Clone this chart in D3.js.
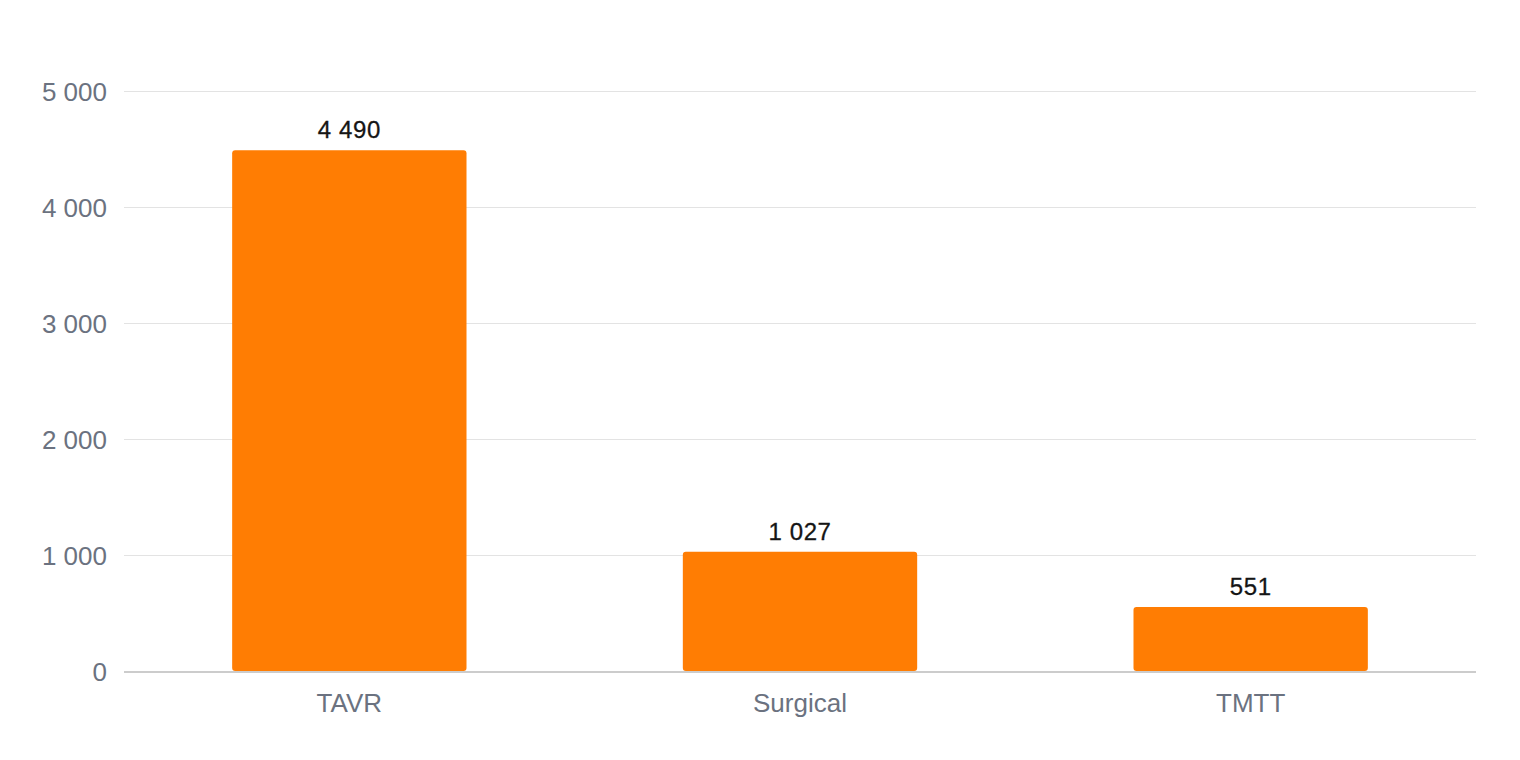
<!DOCTYPE html>
<html><head><meta charset="utf-8">
<script src="https://cdn.jsdelivr.net/npm/d3@7"></script>
<style>
html,body{margin:0;padding:0;background:#fff;}
svg{display:block;font-family:"Liberation Sans",Arial,Helvetica,sans-serif;}
</style></head>
<body>
<svg id="chart" width="1520" height="760"></svg>
<script>
const categories = ["TAVR", "Surgical", "TMTT"];
const values = [4490, 1027, 551];
const yTicks = [0, 1000, 2000, 3000, 4000, 5000];

const svg = d3.select("#chart");
const margin = {left: 124, right: 44, top: 91, bottom: 89};
const W = 1520, H = 760;
const x = d3.scaleBand().domain(categories).range([margin.left, W - margin.right]).paddingInner(0.48).paddingOuter(0.24);
const y = d3.scaleLinear().domain([0, 5000]).range([H - margin.bottom, margin.top]);
const fmt = v => d3.format(",")(v).replace(/,/g, " ");

// gridlines
svg.append("g").selectAll("line").data(yTicks.filter(t => t > 0)).join("line")
  .attr("x1", margin.left).attr("x2", W - margin.right)
  .attr("y1", d => y(d) + 0.5).attr("y2", d => y(d) + 0.5)
  .attr("stroke", "#e3e3e3").attr("stroke-width", 1.2);

// y labels
const yAxis = d3.axisLeft(y).tickValues(yTicks).tickFormat(fmt).tickSize(0).tickPadding(17);
const gy = svg.append("g").attr("transform", `translate(${margin.left},0)`).call(yAxis);
gy.select(".domain").remove();
gy.selectAll("text").attr("font-size", 26).attr("fill", "#6b7280").attr("font-family", "inherit")
  .attr("dy", null).attr("y", 9);

// bars
svg.append("g").selectAll("rect").data(values).join("rect")
  .attr("x", (d, i) => x(categories[i]))
  .attr("width", x.bandwidth())
  .attr("y", d => y(d))
  .attr("height", d => y(0) - y(d))
  .attr("rx", 3).attr("ry", 3)
  .attr("fill", "#ff7d03");

// baseline
svg.append("line").attr("x1", margin.left).attr("x2", W - margin.right)
  .attr("y1", y(0) + 1).attr("y2", y(0) + 1)
  .attr("stroke", "#cccccc").attr("stroke-width", 2);

// value labels
svg.append("g").selectAll("text").data(values).join("text")
  .attr("x", (d, i) => x(categories[i]) + x.bandwidth() / 2)
  .attr("y", d => y(d) - 12)
  .attr("text-anchor", "middle")
  .attr("font-size", 24).attr("letter-spacing", 0.6).attr("fill", "#151515")
  .attr("stroke", "#151515").attr("stroke-width", 0.3)
  .text(fmt);

// x labels
const xAxis = d3.axisBottom(x).tickSize(0);
const gx = svg.append("g").attr("transform", `translate(0,${y(0)})`).call(xAxis);
gx.select(".domain").remove();
gx.selectAll("text").attr("font-size", 26).attr("fill", "#6b7280").attr("font-family", "inherit")
  .attr("dy", null).attr("y", 41);
</script>
</body></html>
